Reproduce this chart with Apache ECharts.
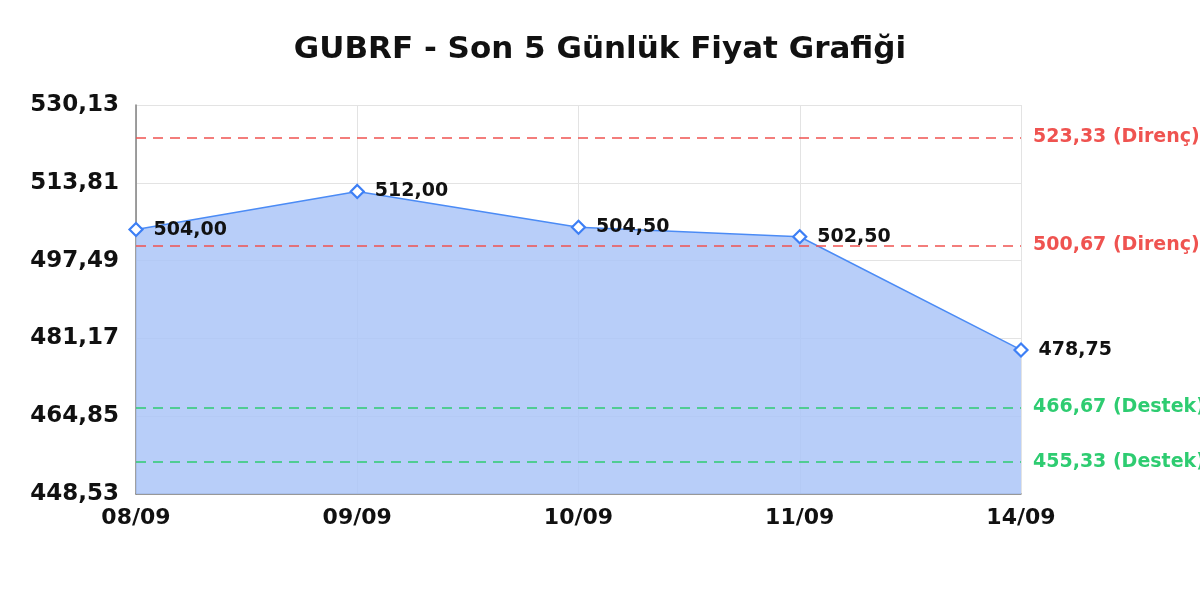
<!DOCTYPE html>
<html>
<head>
<meta charset="utf-8">
<script src="https://cdn.jsdelivr.net/npm/echarts@6/dist/echarts.min.js"></script>
<style>
html,body{margin:0;padding:0;background:#fff;}
#chart{width:1200px;height:600px;}
</style>
</head>
<body>
<div id="chart"></div>
<script>
const categories = ['08/09', '09/09', '10/09', '11/09', '14/09'];
const prices = [504.00, 512.00, 504.50, 502.50, 478.75];
const yTicks = [448.53, 464.85, 481.17, 497.49, 513.81, 530.13];
const resistance = [523.33, 500.67];
const support = [466.67, 455.33];

const fmt = v => Number(v).toFixed(2).replace('.', ',');
const FONT = 'DejaVu Sans';
const RED = '#ef5350';
const GREEN = '#2ecc71';

function levelSeries(name, values, color, word) {
  return {
    name: name,
    type: 'line',
    data: [],
    silent: true,
    markLine: {
      silent: true,
      symbol: ['none', 'none'],
      lineStyle: { color: color, type: [10, 7], width: 1.5, opacity: 1 },
      label: {
        show: true,
        position: 'end',
        distance: 12,
        color: color,
        fontFamily: FONT, fontWeight: 'bold', fontSize: 19,
        formatter: p => fmt(p.value) + ' (' + word + ')'
      },
      data: values.map(v => ({ yAxis: v }))
    }
  };
}

const chart = echarts.init(document.getElementById('chart'));
chart.setOption({
  animation: false,
  backgroundColor: '#ffffff',
  title: {
    text: 'GUBRF - Son 5 Günlük Fiyat Grafiği',
    left: 'center',
    top: 29,
    textStyle: { fontFamily: FONT, fontWeight: 'bold', fontSize: 31, color: '#111' }
  },
  grid: { left: 136, right: 179, top: 105, bottom: 106, containLabel: false },
  xAxis: {
    type: 'category',
    data: categories,
    boundaryGap: false,
    axisLine: { show: true, lineStyle: { color: '#808080', width: 1.5 } },
    axisTick: { show: false },
    axisLabel: { fontFamily: FONT, fontWeight: 'bold', fontSize: 22, color: '#111', margin: 13 },
    splitLine: { show: true, lineStyle: { color: '#e3e3e3', width: 1 } }
  },
  yAxis: {
    type: 'value',
    min: yTicks[0],
    max: yTicks[yTicks.length - 1],
    axisLine: { show: true, lineStyle: { color: '#808080', width: 1.5 } },
    axisTick: { show: false, customValues: yTicks },
    axisLabel: {
      customValues: yTicks,
      fontFamily: FONT, fontWeight: 'bold', fontSize: 23, color: '#111', margin: 17,
      formatter: v => fmt(v)
    },
    splitLine: { show: true, lineStyle: { color: '#e3e3e3', width: 1 } }
  },
  series: [
    {
      name: 'Fiyat',
      type: 'line',
      data: prices,
      symbol: 'diamond',
      symbolSize: 13,
      showAllSymbol: true,
      z: 3,
      lineStyle: { color: '#4b8bf5', width: 1.5 },
      itemStyle: { color: '#ffffff', borderColor: '#3d7ff5', borderWidth: 2.2 },
      areaStyle: { color: 'rgb(171,198,248)', opacity: 0.85 },
      label: {
        show: true,
        position: 'right',
        distance: 10,
        fontFamily: FONT, fontWeight: 'bold', fontSize: 19, color: '#111',
        formatter: p => fmt(p.value)
      }
    },
    levelSeries('Direnç', resistance, RED, 'Direnç'),
    levelSeries('Destek', support, GREEN, 'Destek')
  ]
});
</script>
</body>
</html>
